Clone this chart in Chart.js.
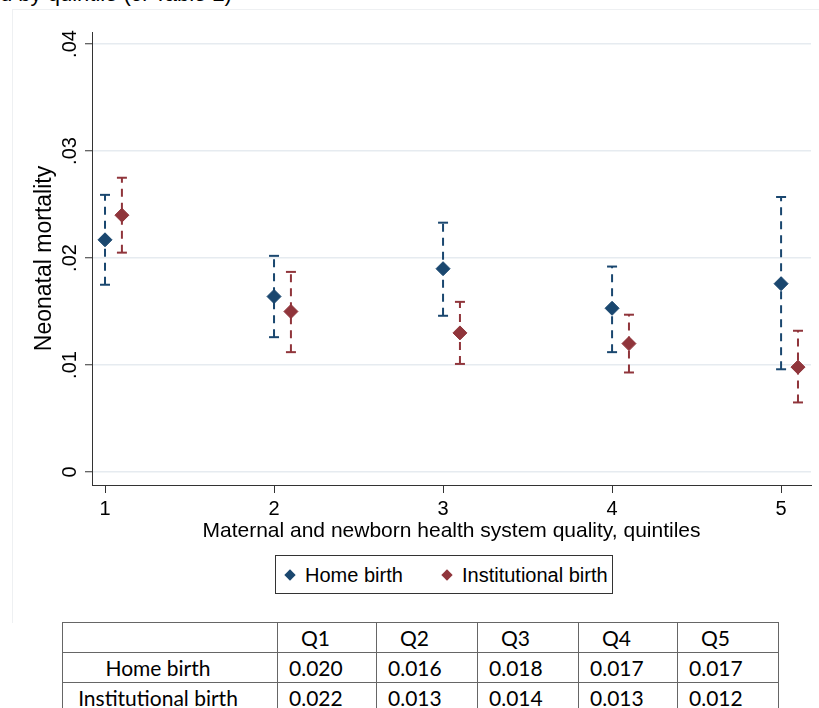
<!DOCTYPE html>
<html>
<head>
<meta charset="utf-8">
<script src="https://cdn.jsdelivr.net/npm/chart.js@4.4.1/dist/chart.umd.min.js"></script>
<style>
  body { margin: 0; background: #fff; width: 819px; height: 708px; overflow: hidden; position: relative; font-family: "Liberation Sans", Arial, sans-serif; }
  #cut { position: absolute; left: 0; top: -17px; font-size: 22px; line-height: 1; white-space: nowrap; color: #000; }
  #panel { position: absolute; left: 12px; top: 9px; width: 830px; height: 613px; border-left: 1px solid #eef0f2; border-top: 1px solid #eef0f2; }
  #chart { position: absolute; left: 0; top: 0; }
  #legend { position: absolute; left: 275px; top: 555px; width: 336px; height: 37px; border: 1px solid #333; box-sizing: content-box; font-size: 20px; color: #000; }
  #legend .item { position: absolute; top: 8px; white-space: nowrap; }
  #legend .dia { position: absolute; width: 8px; height: 8px; transform: rotate(45deg); }
  table { position: absolute; left: 62px; top: 622px; border-collapse: collapse; font-family: Lato, "Open Sans", sans-serif; font-size: 21px; color: #000; }
  td { border: 1.5px solid #666; height: 29px; padding: 0; white-space: nowrap; }
  td.name { text-align: center; padding-right: 24px; }
  td.hd { padding-left: 23px; }
  td.num { padding-left: 11px; }
</style>
</head>
<body>
<div id="cut">d by quintile (cf Table 2)</div>
<div id="panel"></div>
<canvas id="chart" width="819" height="550"></canvas>
<div id="legend"></div>
<table id="tbl"></table>
<script>
const quintiles = [1, 2, 3, 4, 5];
const homeX = [1, 2, 3, 4, 5];
const instX = [1.1, 2.1, 3.1, 4.1, 5.1];

const homeEst = [0.0217, 0.0164, 0.0190, 0.0153, 0.0176];
const homeLo  = [0.0175, 0.0126, 0.0146, 0.0112, 0.0096];
const homeHi  = [0.0259, 0.0202, 0.0233, 0.0192, 0.0257];

const instEst = [0.0240, 0.0150, 0.0130, 0.0120, 0.0098];
const instLo  = [0.0205, 0.0112, 0.0101, 0.0093, 0.0065];
const instHi  = [0.0275, 0.0187, 0.0159, 0.0147, 0.0132];

const yTicks = [0, 0.01, 0.02, 0.03, 0.04];
const yTickLabels = ["0", ".01", ".02", ".03", ".04"];

const seriesNames = ["Home birth", "Institutional birth"];
const tableCols = ["Q1", "Q2", "Q3", "Q4", "Q5"];
const tableHome = ["0.020", "0.016", "0.018", "0.017", "0.017"];
const tableInst = ["0.022", "0.013", "0.014", "0.013", "0.012"];

const BLUE = "#1a476f";
const RED = "#90353b";
const FONT = '"Liberation Sans", Arial, sans-serif';

function pts(xs, ys) {
  return xs.map((x, i) => ({ x: x, y: ys[i] }));
}

// each interval is two points, then a null to break the line
function ciData(xs, lo, hi) {
  const d = [];
  xs.forEach((x, i) => {
    d.push({ x: x, y: lo[i] }, { x: x, y: hi[i] }, { x: x, y: null });
  });
  return d;
}

function ciSet(xs, lo, hi, color) {
  return {
    data: ciData(xs, lo, hi),
    showLine: true,
    spanGaps: false,
    borderColor: color,
    borderWidth: 2,
    borderDash: [8, 6],
    pointStyle: "line",
    pointRadius: 5,
    pointBorderWidth: 2,
    pointBorderColor: color,
    pointHoverRadius: 5,
    order: 2
  };
}

function estSet(xs, ys, color, name) {
  return {
    label: name,
    data: pts(xs, ys),
    pointStyle: "rectRot",
    pointRadius: 7,
    pointHoverRadius: 7,
    backgroundColor: color,
    borderColor: color,
    borderWidth: 1,
    order: 1
  };
}

const rotatedYLabels = {
  id: "rotatedYLabels",
  afterDraw(chart) {
    const s = chart.scales.y;
    const ctx = chart.ctx;
    ctx.save();
    ctx.font = "20px " + FONT;
    ctx.fillStyle = "#000";
    ctx.textAlign = "center";
    ctx.textBaseline = "middle";
    s.ticks.forEach((t, i) => {
      const y = s.getPixelForValue(t.value);
      ctx.save();
      ctx.translate(70, y);
      ctx.rotate(-Math.PI / 2);
      ctx.fillText(yTickLabels[i], 0, 0);
      ctx.restore();
    });
    ctx.restore();
  }
};

new Chart(document.getElementById("chart"), {
  type: "scatter",
  data: {
    datasets: [
      estSet(homeX, homeEst, BLUE, seriesNames[0]),
      estSet(instX, instEst, RED, seriesNames[1]),
      ciSet(homeX, homeLo, homeHi, BLUE),
      ciSet(instX, instLo, instHi, RED)
    ]
  },
  options: {
    responsive: false,
    animation: false,
    devicePixelRatio: 1,
    layout: { padding: { top: 32, right: 8, left: 0, bottom: 0 } },
    plugins: {
      legend: { display: false },
      tooltip: { enabled: false }
    },
    scales: {
      x: {
        type: "linear",
        min: 0.923,
        max: 5.177,
        afterBuildTicks: s => { s.ticks = quintiles.map(v => ({ value: v })); },
        afterFit: s => { s.height = 65; },
        ticks: { color: "#000", font: { family: FONT, size: 20 }, padding: 4, callback: v => String(v) },
        grid: { display: true, drawOnChartArea: false, tickLength: 8, tickColor: "#333", tickWidth: 1 },
        border: { color: "#333", width: 1 },
        title: {
          display: true,
          text: "Maternal and newborn health system quality, quintiles",
          color: "#000",
          font: { family: FONT, size: 21 },
          padding: { top: 0, bottom: 6 }
        }
      },
      y: {
        min: -0.001215,
        max: 0.04112,
        afterBuildTicks: s => { s.ticks = yTicks.map(v => ({ value: v })); },
        afterFit: s => { s.width = 92; },
        ticks: { display: false },
        grid: { color: "#e6ebf0", lineWidth: 1.5, tickLength: 7, tickColor: "#333", tickWidth: 1 },
        border: { color: "#333", width: 1 },
        title: {
          display: true,
          text: "Neonatal mortality",
          color: "#000",
          font: { family: FONT, size: 23 },
          padding: { top: 31, bottom: 0 }
        }
      }
    }
  },
  plugins: [rotatedYLabels]
});

// legend
const legend = document.getElementById("legend");
const legendPos = [{ dia: 10, text: 29 }, { dia: 167, text: 186 }];
seriesNames.forEach((n, i) => {
  const d = document.createElement("span");
  d.className = "dia";
  d.style.left = legendPos[i].dia + "px";
  d.style.top = "15px";
  d.style.background = i === 0 ? BLUE : RED;
  legend.appendChild(d);
  const t = document.createElement("span");
  t.className = "item";
  t.style.left = legendPos[i].text + "px";
  t.textContent = n;
  legend.appendChild(t);
});

// table
const tbl = document.getElementById("tbl");
const widths = [214, 98, 100, 100, 98, 100];
function addRow(name, cells, cls) {
  const tr = document.createElement("tr");
  const td0 = document.createElement("td");
  td0.className = "name";
  td0.textContent = name;
  td0.style.width = (widths[0] - 24) + "px";
  tr.appendChild(td0);
  cells.forEach((c, i) => {
    const td = document.createElement("td");
    td.className = cls;
    td.textContent = c;
    td.style.width = (widths[i + 1] - (cls === "hd" ? 23 : 11)) + "px";
    tr.appendChild(td);
  });
  tbl.appendChild(tr);
}
addRow("", tableCols, "hd");
addRow(seriesNames[0], tableHome, "num");
addRow(seriesNames[1], tableInst, "num");
</script>
</body>
</html>
